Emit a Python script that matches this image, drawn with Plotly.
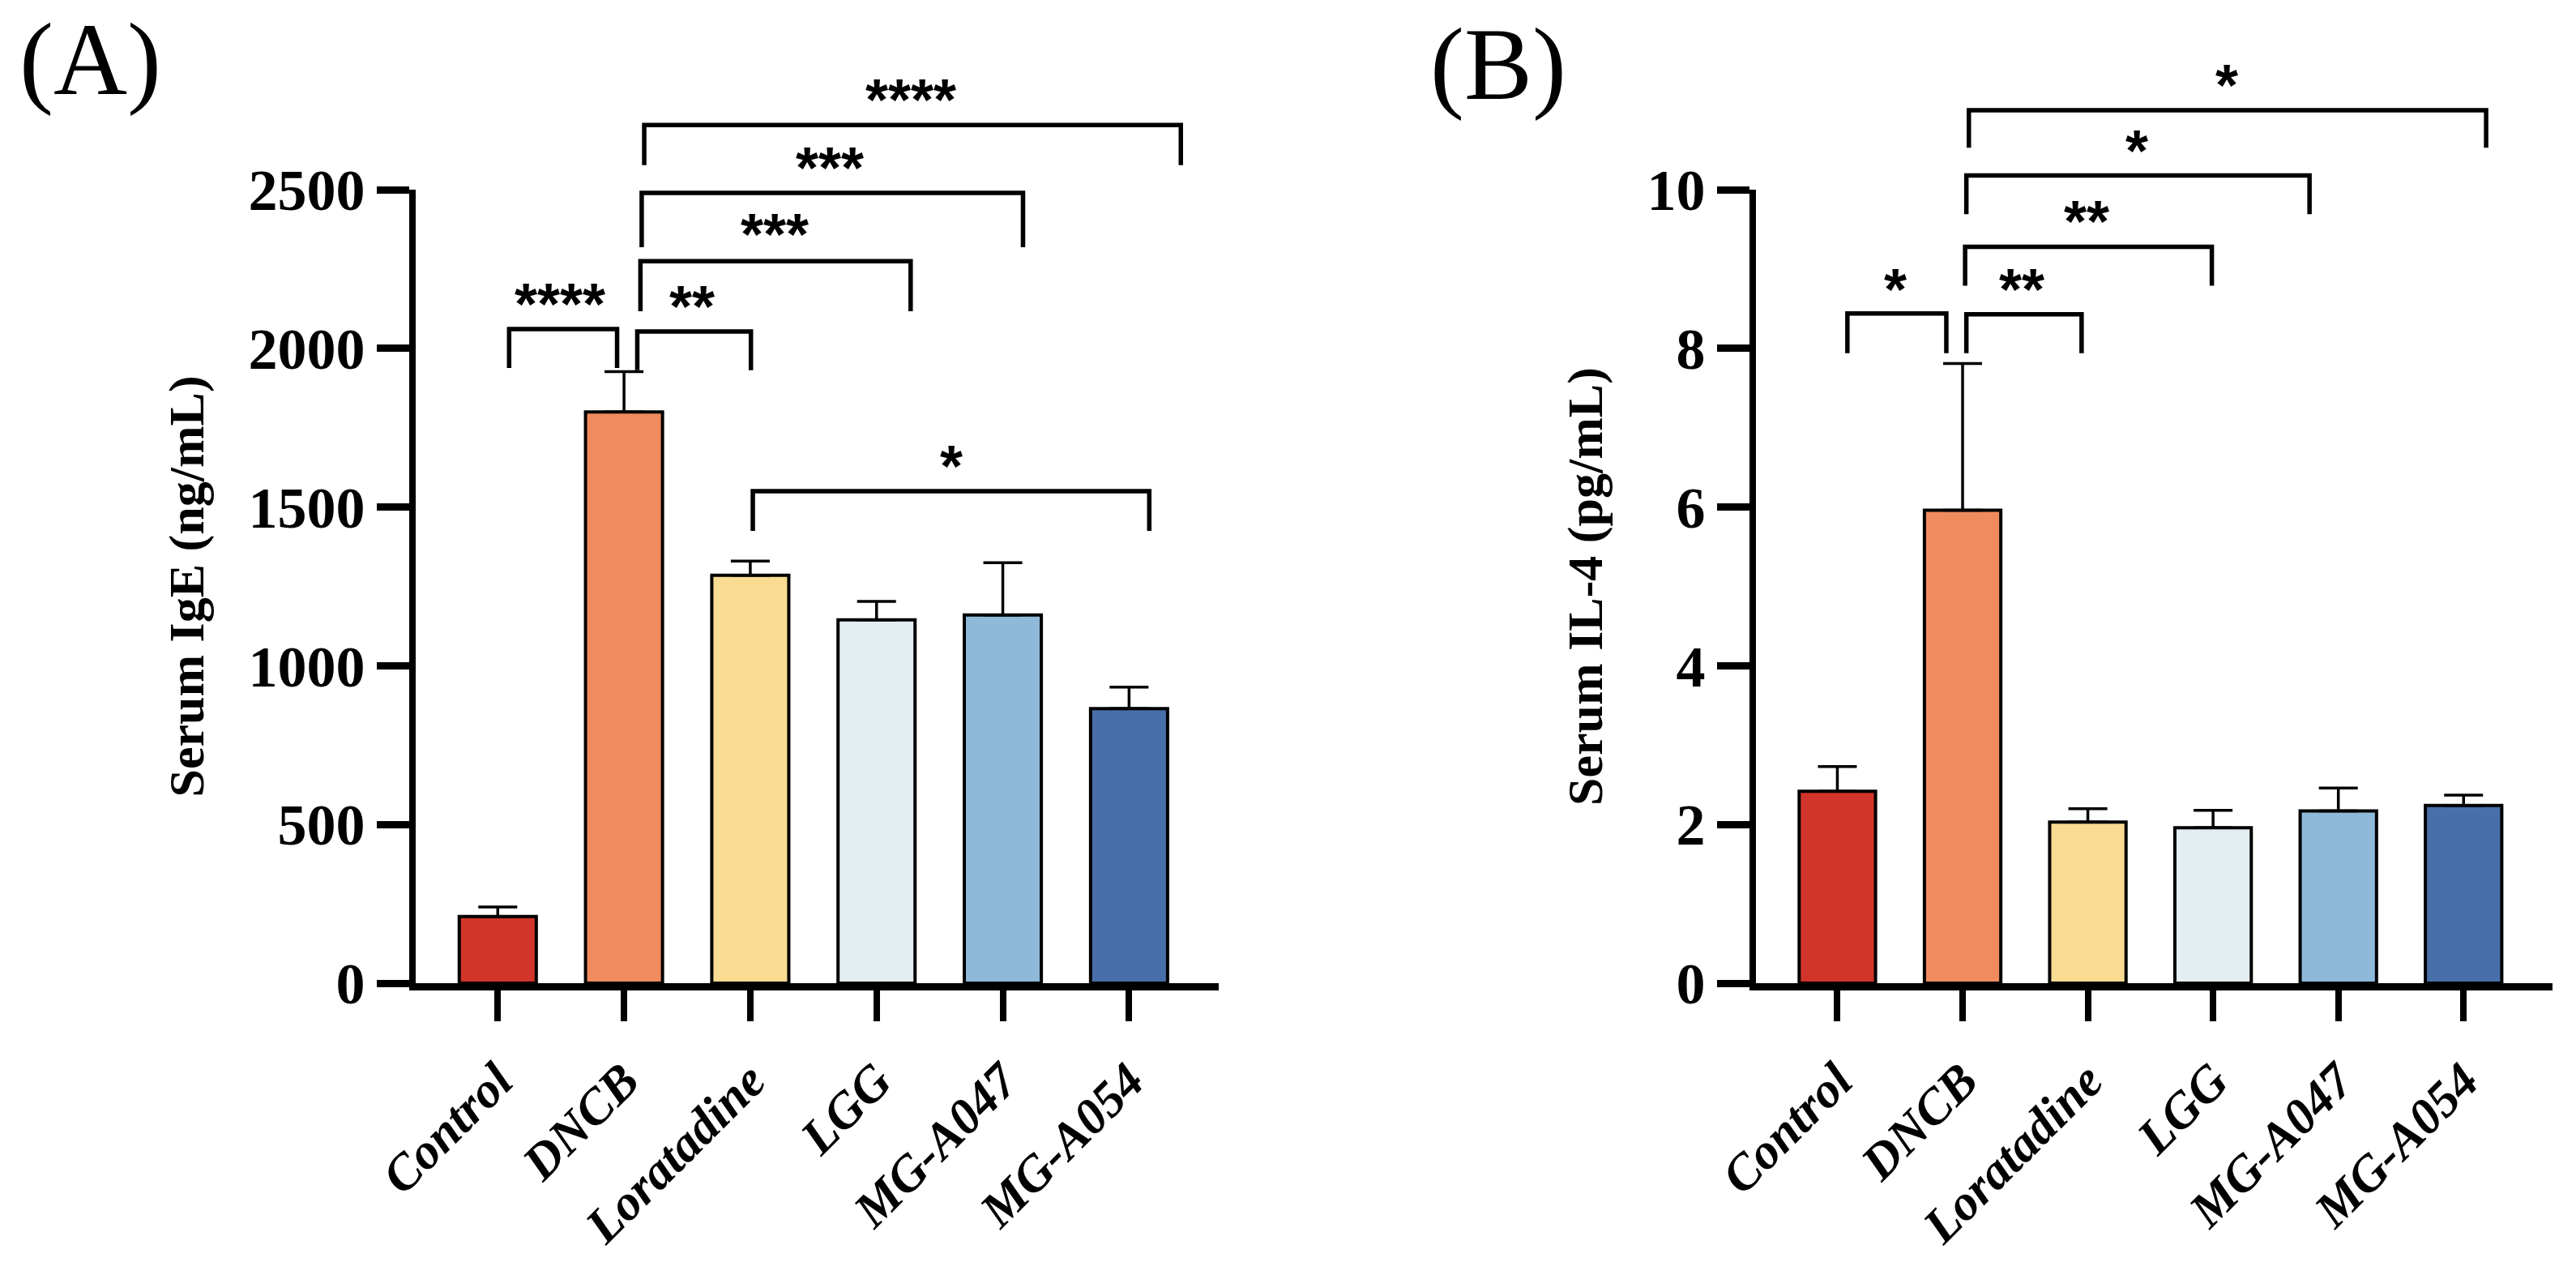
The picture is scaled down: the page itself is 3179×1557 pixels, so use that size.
import plotly.graph_objects as go

# ---------------- data ----------------
groups = ["Control", "DNCB", "Loratadine", "LGG", "MG-A047", "MG-A054"]
colors = ["#D0342A", "#F08B5E", "#F9DB92", "#E4EEF2", "#8EB9D9", "#486FA9"]

ige_mean = [210, 1800, 1285, 1145, 1160, 865]
ige_err = [30, 127, 45, 58, 165, 68]

il4_mean = [2.42, 5.96, 2.03, 1.96, 2.17, 2.24]
il4_err = [0.31, 1.85, 0.17, 0.22, 0.29, 0.13]

ige_ticks = [0, 500, 1000, 1500, 2000, 2500]
il4_ticks = [0, 2, 4, 6, 8, 10]

# significance brackets (x in group-index units, y in data units)
brA_left = [0.09, 1.105, 1.13, 1.14, 1.16, 2.02]
brA_right = [0.945, 2.005, 3.27, 4.16, 5.41, 5.16]
brA_top = [2061, 2053, 2275, 2490, 2704, 1550]
brA_leg = [1938, 1931, 2117, 2319, 2577, 1425]
starA_text = ["****", "**", "***", "***", "****", "*"]
starA_x = [0.495, 1.54, 2.19, 2.63, 3.27, 3.59]
starA_y = [2186, 2178, 2405, 2615, 2830, 1675]

brB_left = [0.08, 1.03, 1.02, 1.03, 1.05]
brB_right = [0.87, 1.95, 2.99, 3.77, 5.18]
brB_top = [8.44, 8.43, 9.28, 10.18, 11.0]
brB_leg = [7.94, 7.94, 8.79, 9.69, 10.53]
starB_text = ["*", "**", "**", "*", "*"]
starB_x = [0.46, 1.47, 1.99, 2.39, 3.11]
starB_y = [8.93, 8.93, 9.79, 10.67, 11.5]

# ---------------- layout constants ----------------
W, H = 3179, 1557
SERIF = "Liberation Serif"
SANS = "Liberation Sans"
y_dom = [0.2209, 0.8497]
ext_dom = [0.2209, 1.0]
ext_factor = (ext_dom[1] - ext_dom[0]) / (y_dom[1] - y_dom[0])

xs = list(range(len(groups)))

fig = go.Figure()


def add_bars(xaxis, yaxis, means, errs):
    fig.add_trace(go.Bar(
        x=xs, y=means, xaxis=xaxis, yaxis=yaxis, width=0.61,
        marker=dict(color=colors, line=dict(color="black", width=4)),
        error_y=dict(type="data", symmetric=False, array=errs,
                     arrayminus=[0] * len(errs), color="black",
                     thickness=3.5, width=24),
        showlegend=False, hoverinfo="skip",
    ))


def add_brackets(xaxis, yaxis, left, right, top, leg):
    bx, by = [], []
    for l, r, t, g in zip(left, right, top, leg):
        bx += [l, l, r, r, None]
        by += [g, t, t, g, None]
    fig.add_trace(go.Scatter(
        x=bx, y=by, xaxis=xaxis, yaxis=yaxis, mode="lines",
        line=dict(color="black", width=5.5), showlegend=False,
        hoverinfo="skip", cliponaxis=False,
    ))


add_bars("x", "y", ige_mean, ige_err)
add_bars("x2", "y2", il4_mean, il4_err)
add_brackets("x", "y3", brA_left, brA_right, brA_top, brA_leg)
add_brackets("x2", "y4", brB_left, brB_right, brB_top, brB_leg)

star_font = dict(family=SANS, size=72, color="black", weight="bold")
annotations = []
for t, x, y in zip(starA_text, starA_x, starA_y):
    annotations.append(dict(text=t, x=x, y=y, xref="x", yref="y3",
                            showarrow=False, yshift=-18, font=star_font))
for t, x, y in zip(starB_text, starB_x, starB_y):
    annotations.append(dict(text=t, x=x, y=y, xref="x2", yref="y4",
                            showarrow=False, yshift=-18, font=star_font))

annotations.append(dict(text="(A)", x=22 / W, y=1 - 2 / H, xref="paper", yref="paper",
                        xanchor="left", yanchor="top", showarrow=False,
                        font=dict(family=SERIF, size=126, color="black")))
annotations.append(dict(text="(B)", x=1763 / W, y=1 - 8 / H, xref="paper", yref="paper",
                        xanchor="left", yanchor="top", showarrow=False,
                        font=dict(family=SERIF, size=126, color="black")))

x_common = dict(
    range=[-0.65, 5.71], tickvals=xs, ticktext=groups, tickangle=-45,
    showline=True, linecolor="black", linewidth=9, automargin=False,
    ticks="outside", ticklen=38, tickwidth=8, tickcolor="black",
    showgrid=False, zeroline=False, ticklabelstandoff=12,
    tickfont=dict(family=SERIF, size=62, color="black", weight="bold", style="italic"),
)
y_common = dict(
    showline=True, linecolor="black", linewidth=8, automargin=False,
    ticks="outside", ticklen=40, tickwidth=9, tickcolor="black",
    showgrid=False, zeroline=False,
    tickfont=dict(family=SERIF, size=72, color="black", weight="bold"),
)
title_font = dict(family=SERIF, size=62, color="black", weight="bold")

fig.update_layout(
    width=W, height=H, margin=dict(l=0, r=0, t=0, b=0, autoexpand=False),
    paper_bgcolor="white", plot_bgcolor="rgba(0,0,0,0)",
    showlegend=False,
    xaxis=dict(domain=[513 / W, 1504 / W], anchor="y", **x_common),
    xaxis2=dict(domain=[2167 / W, 3150 / W], anchor="y2", **x_common),
    yaxis=dict(domain=y_dom, anchor="x", range=[0, 2500], tickvals=ige_ticks,
               title=dict(text="Serum IgE (ng/mL)", standoff=38, font=title_font),
               **y_common),
    yaxis2=dict(domain=y_dom, anchor="x2", range=[0, 10], tickvals=il4_ticks,
                title=dict(text="Serum IL-4 (pg/mL)", standoff=38, font=title_font),
                **y_common),
    yaxis3=dict(domain=ext_dom, anchor="x", range=[0, 2500 * ext_factor], visible=False,
                showgrid=False, zeroline=False, automargin=False),
    yaxis4=dict(domain=ext_dom, anchor="x2", range=[0, 10 * ext_factor], visible=False,
                showgrid=False, zeroline=False, automargin=False),
    annotations=annotations,
)

fig.write_html("out.html")
